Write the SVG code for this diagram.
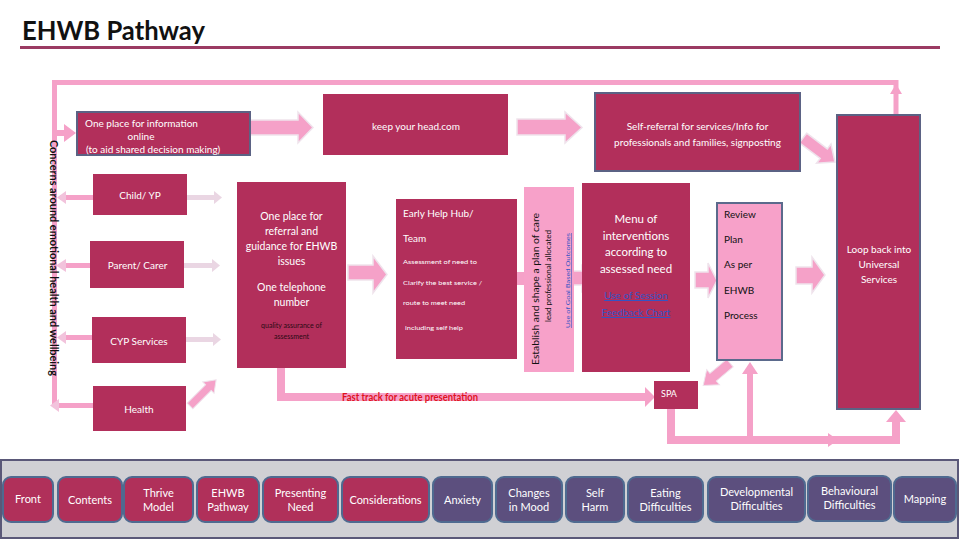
<svg xmlns="http://www.w3.org/2000/svg" width="960" height="540" viewBox="0 0 960 540">
<style>
.bx{fill:#b22f5b}
.bxs{fill:#b22f5b;stroke:#5b6284;stroke-width:2}
.pk{fill:#f7a1c9}
.pks{fill:#f7a1c9;stroke:#5b6a8c;stroke-width:2}
.t{font-family:Lato,"Liberation Sans",sans-serif}
.w{fill:#ffffff}
.k{fill:#111111}
.big{fill:#f5a1c8;stroke:#efe3ec;stroke-width:1.5}
.ln{stroke:#f5a1c8;fill:none}
.thin{fill:#ead6e3}
.nav{fill:#b0305a;stroke:#4f6a90;stroke-width:2}
.navp{fill:#5c4f7e;stroke:#4f6a90;stroke-width:2}
.nt{font-family:Lato,"Liberation Sans",sans-serif;fill:#ffffff;font-size:11px;text-anchor:middle}
.lnk{fill:#3454c4;text-decoration:underline}
</style>
<rect width="960" height="540" fill="#ffffff"/>
<text x="22" y="40" class="t" font-size="27" font-weight="bold" fill="#111" textLength="183" lengthAdjust="spacingAndGlyphs">EHWB Pathway</text>
<rect x="20" y="46" width="920" height="3" fill="#9b3b63"/>

<g id="connectors">
  <!-- top loop -->
  <path class="ln" stroke-width="5" d="M896,116 V82.5 H54.5 V406"/>
  <polygon points="890,94 896,84 902,94" fill="#f5a1c8"/>
  <!-- into info box -->
  <rect x="55" y="130" width="12" height="6" fill="#f5a1c8"/>
  <polygon points="64,124 76,133 64,142" fill="#f5a1c8"/>
  <!-- left connectors -->
  <rect x="60" y="195" width="33" height="5" fill="#f5a1c8"/>
  <polygon points="66,191 57,197.5 66,204" fill="#f2c3dc"/>
  <rect x="60" y="263" width="30" height="5" fill="#f5a1c8"/>
  <polygon points="66,259 56,265.5 66,272" fill="#f2c3dc"/>
  <rect x="62" y="335" width="30" height="5" fill="#f5a1c8"/>
  <polygon points="66,331 57,337.5 66,344" fill="#f2c3dc"/>
  <rect x="56" y="403" width="37" height="5" fill="#f5a1c8"/>
  <polygon points="59,399 50,405.5 59,412" fill="#f2c3dc"/>
  <!-- thin right arrows -->
  <polygon class="thin" points="187,195 214,195 214,191 222,197.5 214,204 214,200 187,200"/>
  <polygon class="thin" points="184,263 212,263 212,259 220,265.5 212,272 212,268 184,268"/>
  <polygon class="thin" points="186,337 213,337 213,333 221,339.5 213,346 213,342 186,342"/>
  <!-- health diagonal -->
  <g transform="translate(190,406) rotate(-45)">
    <polygon points="0,-4 26,-4 26,-8 37,0 26,8 26,4 0,4" fill="#f5a1c8" stroke="#efe3ec" stroke-width="1"/>
  </g>
  <!-- block arrows -->
  <polygon class="big" points="250,120 298,120 298,112 313,127.5 298,143 298,135 250,135"/>
  <polygon class="big" points="517,119 565,119 565,112 582,127.5 565,143 565,135 517,135"/>
  <g transform="translate(803,138) rotate(37)">
    <polygon class="big" points="0,-6 26,-6 26,-12 40,0 26,12 26,6 0,6"/>
  </g>
  <polygon class="big" points="348,265 373,265 373,256 387,274.5 373,293 373,280 348,280"/>
  <rect x="516" y="272" width="9" height="13" fill="#f5a1c8"/>
  <polygon class="big" points="573,271 582,271 582,266 592,278.5 582,291 582,285 573,285"/>
  <polygon class="big" points="695,272 708,272 708,263 717,280.5 708,298 708,288 695,288"/>
  <polygon class="big" points="796,267 812,267 812,257 825,275 812,293 812,284 796,284"/>
  <!-- fast track -->
  <path class="ln" stroke-width="8" d="M281,368 V397 H646"/>
  <polygon points="645,387 655,397 645,407" fill="#f5a1c8"/>
  <!-- review to SPA diagonal -->
  <g transform="translate(730,363) rotate(140)">
    <polygon points="0,-5 22,-5 22,-10 35,0 22,10 22,5 0,5" fill="#f5a1c8" stroke="#efe3ec" stroke-width="1"/>
  </g>
  <!-- bottom loop -->
  <path class="ln" stroke-width="8" d="M671,409 V440 H896 V420"/>
  <polygon points="886,422 896,410 906,422" fill="#f5a1c8"/>
  <polygon points="828,433 838,440 828,447" fill="#f5a1c8"/>
  <rect x="747" y="372" width="6" height="66" fill="#f5a1c8"/>
  <polygon points="742,374 750,362 758,374" fill="#f5a1c8"/>
</g>

<text transform="translate(50,140) rotate(90)" class="t k" font-size="11" font-weight="bold" textLength="236" lengthAdjust="spacingAndGlyphs">Concerns around emotional health and wellbeing</text>

<g id="info">
  <rect class="bxs" x="77" y="112" width="173" height="43"/>
  <text class="t w" font-size="10" x="85" y="127">One place for information</text>
  <text class="t w" font-size="10" x="141" y="140" text-anchor="middle">online</text>
  <text class="t w" font-size="10" x="86" y="153">(to aid shared decision making)</text>
</g>
<g id="keepyourhead">
  <rect class="bx" x="323" y="94" width="185" height="61"/>
  <text class="t w" font-size="10" x="416" y="130" text-anchor="middle">keep your head.com</text>
</g>
<g id="selfreferral">
  <rect class="bxs" x="595" y="93" width="205" height="78"/>
  <text class="t w" font-size="10" x="697.5" y="130" text-anchor="middle">Self-referral for services/Info for</text>
  <text class="t w" font-size="10" x="697.5" y="146" text-anchor="middle">professionals and families, signposting</text>
</g>
<g id="loopback">
  <rect class="bxs" x="837" y="115" width="83" height="294"/>
  <text class="t w" font-size="10" x="879" y="253" text-anchor="middle">Loop back into</text>
  <text class="t w" font-size="10" x="879" y="268" text-anchor="middle">Universal</text>
  <text class="t w" font-size="10" x="879" y="283" text-anchor="middle">Services</text>
</g>
<g id="child">
  <rect class="bx" x="93" y="174" width="94" height="41"/>
  <text class="t w" font-size="10" x="140" y="199" text-anchor="middle">Child/ YP</text>
</g>
<g id="parent">
  <rect class="bx" x="90" y="241" width="94" height="47"/>
  <text class="t w" font-size="10" x="137.5" y="269" text-anchor="middle">Parent/ Carer</text>
</g>
<g id="cyp">
  <rect class="bx" x="92" y="317" width="94" height="46"/>
  <text class="t w" font-size="10" x="139" y="345" text-anchor="middle">CYP Services</text>
</g>
<g id="health">
  <rect class="bx" x="93" y="386" width="93" height="45"/>
  <text class="t w" font-size="10" x="139" y="413" text-anchor="middle">Health</text>
</g>
<g id="referral">
  <rect class="bx" x="237" y="182" width="109" height="186"/>
  <g class="t w" font-size="10.5" text-anchor="middle">
    <text x="291.5" y="220">One place for</text>
    <text x="291.5" y="235">referral and</text>
    <text x="291.5" y="250">guidance for EHWB</text>
    <text x="291.5" y="265">issues</text>
    <text x="291.5" y="291">One telephone</text>
    <text x="291.5" y="306">number</text>
  </g>
  <text class="t" fill="#2a0a14" font-size="7" x="291.5" y="328" text-anchor="middle">quality assurance of</text>
  <text class="t" fill="#2a0a14" font-size="7" x="291.5" y="339" text-anchor="middle">assessment</text>
</g>
<g id="earlyhelp">
  <rect class="bx" x="396" y="199" width="121" height="160"/>
  <text class="t w" font-size="10" x="403" y="217">Early Help Hub/</text>
  <text class="t w" font-size="10" x="403" y="242">Team</text>
  <text class="t w" font-size="6.5" x="403" y="264" textLength="74" lengthAdjust="spacingAndGlyphs">Assessment of need to</text>
  <text class="t w" font-size="6.5" x="403" y="285" textLength="79" lengthAdjust="spacingAndGlyphs">Clarify the best service /</text>
  <text class="t w" font-size="6.5" x="403" y="305" textLength="62" lengthAdjust="spacingAndGlyphs">route to meet need</text>
  <text class="t w" font-size="6.5" x="405" y="330" textLength="58" lengthAdjust="spacingAndGlyphs">including self help</text>
</g>
<g id="establish">
  <rect class="pk" x="524" y="187" width="50" height="185"/>
  <text transform="translate(539,365) rotate(-90)" class="t k" font-size="10" textLength="152" lengthAdjust="spacingAndGlyphs">Establish and shape a plan of care</text>
  <text transform="translate(551,322) rotate(-90)" class="t k" font-size="7" textLength="92" lengthAdjust="spacingAndGlyphs">lead professional allocated</text>
  <text transform="translate(570,328) rotate(-90)" class="t lnk" font-size="6" textLength="95" lengthAdjust="spacingAndGlyphs">Use of Goal Based Outcomes</text>
</g>
<g id="menu">
  <rect class="bx" x="582" y="183" width="108" height="189"/>
  <g class="t w" font-size="11.5" text-anchor="middle">
    <text x="636" y="223">Menu of</text>
    <text x="636" y="240">interventions</text>
    <text x="636" y="256">according to</text>
    <text x="636" y="273">assessed need</text>
  </g>
  <text class="t lnk" font-size="10" x="636" y="299" text-anchor="middle">Use of Session</text>
  <text class="t lnk" font-size="10" x="636" y="316" text-anchor="middle">Feedback Chart</text>
</g>
<g id="review">
  <rect class="pks" x="717" y="203" width="65" height="157"/>
  <g class="t k" font-size="10">
    <text x="724" y="218">Review</text>
    <text x="724" y="243">Plan</text>
    <text x="724" y="268">As per</text>
    <text x="724" y="294">EHWB</text>
    <text x="724" y="319">Process</text>
  </g>
</g>
<g id="fasttrack-label">
  <text class="t" fill="#e0121e" font-size="11" font-weight="bold" x="342" y="401" textLength="136" lengthAdjust="spacingAndGlyphs">Fast track for acute  presentation</text>
</g>
<g id="spa">
  <rect class="bx" x="654" y="381" width="44" height="28"/>
  <text class="t w" font-size="9" x="661" y="397">SPA</text>
</g>

<g id="navbar">
  <rect x="1" y="460" width="957" height="78" fill="#d0d0d4" stroke="#5a5878" stroke-width="2"/>
  <g id="nav-front"><rect class="nav" x="3" y="477" width="50" height="45" rx="8"/><text class="nt" x="28" y="503">Front</text></g>
  <g id="nav-contents"><rect class="nav" x="58" y="477" width="64" height="45" rx="8"/><text class="nt" x="90" y="504">Contents</text></g>
  <g id="nav-thrive"><rect class="nav" x="124" y="477" width="69" height="45" rx="8"/><text class="nt" x="158.5" y="497">Thrive</text><text class="nt" x="158.5" y="511">Model</text></g>
  <g id="nav-ehwb"><rect class="nav" x="197" y="477" width="62" height="45" rx="8"/><text class="nt" x="228" y="497">EHWB</text><text class="nt" x="228" y="511">Pathway</text></g>
  <g id="nav-presenting"><rect class="nav" x="263" y="477" width="75" height="45" rx="8"/><text class="nt" x="300.5" y="497">Presenting</text><text class="nt" x="300.5" y="511">Need</text></g>
  <g id="nav-considerations"><rect class="nav" x="342" y="477" width="87" height="45" rx="8"/><text class="nt" x="385.5" y="504" font-size="10">Considerations</text></g>
  <g id="nav-anxiety"><rect class="navp" x="433" y="477" width="59" height="45" rx="8"/><text class="nt" x="462.5" y="504">Anxiety</text></g>
  <g id="nav-mood"><rect class="navp" x="496" y="477" width="66" height="45" rx="8"/><text class="nt" x="529" y="497">Changes</text><text class="nt" x="529" y="511">in Mood</text></g>
  <g id="nav-selfharm"><rect class="navp" x="566" y="477" width="58" height="45" rx="8"/><text class="nt" x="595" y="497">Self</text><text class="nt" x="595" y="511">Harm</text></g>
  <g id="nav-eating"><rect class="navp" x="628" y="477" width="75" height="45" rx="8"/><text class="nt" x="665.5" y="497">Eating</text><text class="nt" x="665.5" y="511">Difficulties</text></g>
  <g id="nav-developmental"><rect class="navp" x="708" y="477" width="97" height="45" rx="8"/><text class="nt" x="756.5" y="496">Developmental</text><text class="nt" x="756.5" y="510">Difficulties</text></g>
  <g id="nav-behavioural"><rect class="navp" x="808" y="476" width="83" height="45" rx="8"/><text class="nt" x="849.5" y="495">Behavioural</text><text class="nt" x="849.5" y="509">Difficulties</text></g>
  <g id="nav-mapping"><rect class="navp" x="894" y="477" width="62" height="45" rx="8"/><text class="nt" x="925" y="503">Mapping</text></g>
</g>
</svg>
